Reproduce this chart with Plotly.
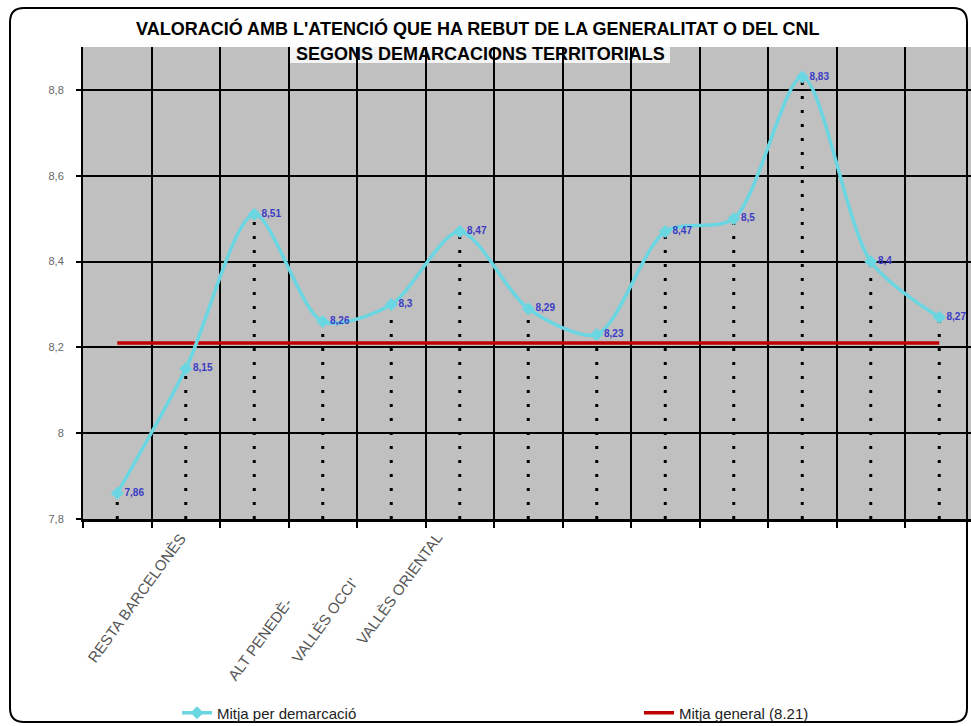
import plotly.graph_objects as go

# ---------------- data ----------------
mitja_demarcacio = [7.86, 8.15, 8.51, 8.26, 8.30, 8.47, 8.29, 8.23, 8.47, 8.50, 8.83, 8.40, 8.27]
mitja_general = 8.21
x_tick_labels = ["RESTA BARCELONÈS", "ALT PENEDÈ-", "VALLÈS OCCI'", "VALLÈS ORIENTAL"]
y_tick_values = [7.8, 8.0, 8.2, 8.4, 8.6, 8.8]
y_tick_labels = ["7,8", "8", "8,2", "8,4", "8,6", "8,8"]
title_line1 = "VALORACIÓ AMB L'ATENCIÓ QUE HA REBUT DE LA GENERALITAT O DEL CNL"
title_line2 = "SEGONS DEMARCACIONS TERRITORIALS"
legend_names = ["Mitja per demarcació", "Mitja general (8.21)"]

# ---------------- layout helpers (pixel -> paper) ----------------
W, H = 971, 726
L, R, T, B = 83, 0, 47, 207
PW, PH = W - L - R, H - T - B


def px(x):
    return (x - L) / PW


def py(y):
    return (H - B - y) / PH


xs = list(range(len(mitja_demarcacio)))
y_min = 7.8

fig = go.Figure()

# drop lines (dotted)
dx, dy = [], []
for x, v in zip(xs, mitja_demarcacio):
    dx += [x, x, None]
    dy += [y_min, v, None]
fig.add_trace(go.Scatter(x=dx, y=dy, mode="lines", showlegend=False, hoverinfo="skip",
                         line=dict(color="black", width=3, dash="3px,11px")))

# general mean line
fig.add_trace(go.Scatter(x=[xs[0], xs[-1]], y=[mitja_general, mitja_general], mode="lines",
                         name=legend_names[1], legend="legend2",
                         line=dict(color="#c00000", width=3.5)))

# mean per demarcation
labels = ["<b>%s</b>" % ("%g" % v).replace(".", ",") for v in mitja_demarcacio]
fig.add_trace(go.Scatter(x=xs, y=mitja_demarcacio, mode="lines+markers+text",
                         name=legend_names[0], legend="legend",
                         line=dict(color="#6ad6e2", width=3.5, shape="spline", smoothing=0.8),
                         marker=dict(symbol="diamond", size=10, color="#6ad6e2"),
                         text=labels, textposition="middle right",
                         textfont=dict(color="#3b3bc4", size=10, family="Liberation Sans"),
                         cliponaxis=False))

annotations = [
    dict(text="<b>%s</b>" % title_line1, xref="paper", yref="paper", x=px(478), y=py(28),
         xanchor="center", yanchor="middle",
         showarrow=False, font=dict(size=18, color="black", family="Liberation Sans")),
    dict(text="<b>%s</b>" % title_line2, xref="paper", yref="paper", x=px(480), y=py(54),
         xanchor="center", yanchor="middle",
         showarrow=False, font=dict(size=18, color="black", family="Liberation Sans")),
]
label_centers = [(136, 598), (260, 640), (324, 620), (399, 588)]
for t, (cx, cy) in zip(x_tick_labels, label_centers):
    annotations.append(dict(text=t, xref="paper", yref="paper", x=px(cx), y=py(cy),
                            xanchor="center", yanchor="middle",
                            showarrow=False, textangle=-54,
                            font=dict(size=15, color="#555555", family="Liberation Sans")))

# rounded outer border
x0, y0, x1, y1, r = px(10), py(8), px(967), py(722), 14
rx, ry = r / PW, r / PH
border = (f"M {x0+rx},{y0} L {x1-rx},{y0} Q {x1},{y0} {x1},{y0-ry} "
          f"L {x1},{y1+ry} Q {x1},{y1} {x1-rx},{y1} L {x0+rx},{y1} "
          f"Q {x0},{y1} {x0},{y1+ry} L {x0},{y0-ry} Q {x0},{y0} {x0+rx},{y0} Z")

shapes = [
    dict(type="rect", xref="paper", yref="paper", x0=px(290), x1=px(670), y0=py(63), y1=py(47),
         fillcolor="#f4f4f4", line=dict(width=0), layer="below"),
    dict(type="path", xref="paper", yref="paper", path=border,
         line=dict(color="black", width=2), layer="above"),
]

fig.update_layout(
    width=W, height=H,
    margin=dict(l=L, r=R, t=T, b=B, autoexpand=False),
    paper_bgcolor="white",
    plot_bgcolor="#c0c0c0",
    font=dict(family="Liberation Sans", color="#333333"),
    separators=",.",
    annotations=annotations,
    shapes=shapes,
    legend=dict(orientation="h", x=px(177), y=py(713), xanchor="left", yanchor="middle",
                bgcolor="rgba(0,0,0,0)", font=dict(size=15, color="#222222")),
    legend2=dict(orientation="h", x=px(639), y=py(713), xanchor="left", yanchor="middle",
                 bgcolor="rgba(0,0,0,0)", font=dict(size=15, color="#222222")),
    xaxis=dict(range=[-0.5, -0.5 + PW / 68.5], tick0=-0.5, dtick=1, showgrid=True,
               gridcolor="black", gridwidth=2, showticklabels=False, zeroline=False,
               ticks="outside", ticklen=6, tickcolor="black", tickwidth=1.5,
               showline=True, linecolor="black", linewidth=2.5),
    yaxis=dict(range=[7.8, 8.9], tickvals=y_tick_values, ticktext=y_tick_labels,
               showgrid=True, gridcolor="black", gridwidth=2, zeroline=False,
               ticks="outside", ticklen=5, tickcolor="black", tickwidth=1.5,
               showline=True, linecolor="black", linewidth=2, ticklabelstandoff=10,
               tickfont=dict(size=11, color="#666666")),
)

fig.write_html("out.html", config={"displayModeBar": False},
               post_script="document.body.style.margin='0';document.body.style.overflow='hidden';")
